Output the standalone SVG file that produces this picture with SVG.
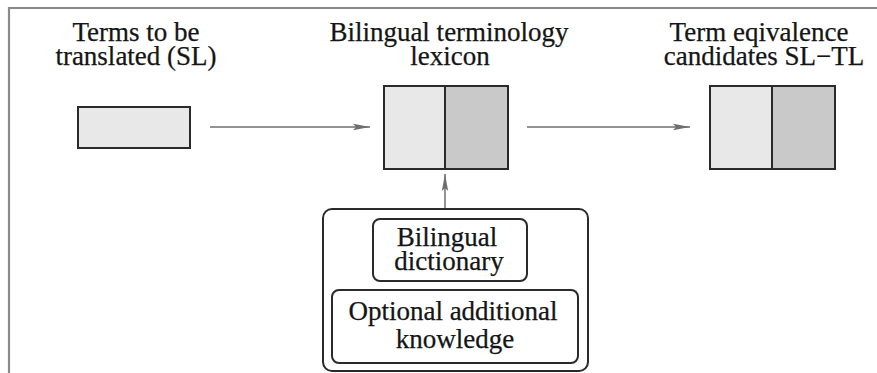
<svg xmlns="http://www.w3.org/2000/svg" width="877" height="373" viewBox="0 0 877 373">
<style>
.t{font-family:'Liberation Serif','DejaVu Serif','Times New Roman',serif;font-size:27px;fill:#151515;text-anchor:middle;stroke:#151515;stroke-width:0.25}
.box{stroke:#2a2a2a;stroke-width:2}
.rb{fill:#fff;stroke:#2a2a2a;stroke-width:2}
.c{stroke:#6e6e6e;stroke-width:1.5;fill:none}
</style>
<defs>
<marker id="ah" markerUnits="userSpaceOnUse" markerWidth="18" markerHeight="8" refX="17" refY="4" orient="auto">
<path d="M0,0.8 L17,4 L0,7.2 L3,4 Z" fill="#6e6e6e"/>
</marker>
</defs>
<rect width="877" height="373" fill="#fff"/>
<path d="M9,373 L9,8 L877,8" fill="none" stroke="#8a8a8a" stroke-width="2.2"/>
<g id="connectors">
<line class="c" x1="210" y1="127" x2="370" y2="127" marker-end="url(#ah)"/>
<line class="c" x1="527" y1="127" x2="690" y2="127" marker-end="url(#ah)"/>
<line class="c" x1="445" y1="208" x2="445" y2="174" marker-end="url(#ah)"/>
</g>
<g id="source">
<text class="t" x="136" y="41" font-family="Liberation Serif, serif">Terms to be</text>
<text class="t" x="136" y="65" font-family="Liberation Serif, serif">translated (SL)</text>
<rect class="box" x="78" y="107" width="112" height="41" fill="#e8e8e8"/>
</g>
<g id="lexicon">
<text class="t" x="449" y="41">Bilingual terminology</text>
<text class="t" x="450" y="65">lexicon</text>
<rect x="384" y="86" width="61" height="83" fill="#e8e8e8"/>
<rect x="445" y="86" width="63" height="83" fill="#c9c9c9"/>
<rect class="box" x="384" y="86" width="124" height="83" fill="none"/>
<line class="box" x1="445" y1="86" x2="445" y2="169"/>
</g>
<g id="candidates">
<text class="t" x="759" y="41">Term eqivalence</text>
<text class="t" x="764" y="65">candidates SL−TL</text>
<rect x="710" y="86" width="62" height="83" fill="#e8e8e8"/>
<rect x="772" y="86" width="63" height="83" fill="#c9c9c9"/>
<rect class="box" x="710" y="86" width="125" height="83" fill="none"/>
<line class="box" x1="772" y1="86" x2="772" y2="169"/>
</g>
<g id="resources">
<rect class="rb" x="323" y="209" width="265" height="162" rx="9"/>
<g id="dictionary">
<rect class="rb" x="373" y="219" width="154" height="62" rx="7"/>
<text class="t" x="447" y="246">Bilingual</text>
<text class="t" x="449" y="270">dictionary</text>
</g>
<g id="knowledge">
<rect class="rb" x="332" y="290" width="246" height="73" rx="7"/>
<text class="t" x="453" y="320">Optional additional</text>
<text class="t" x="455" y="348">knowledge</text>
</g>
</g>
</svg>
